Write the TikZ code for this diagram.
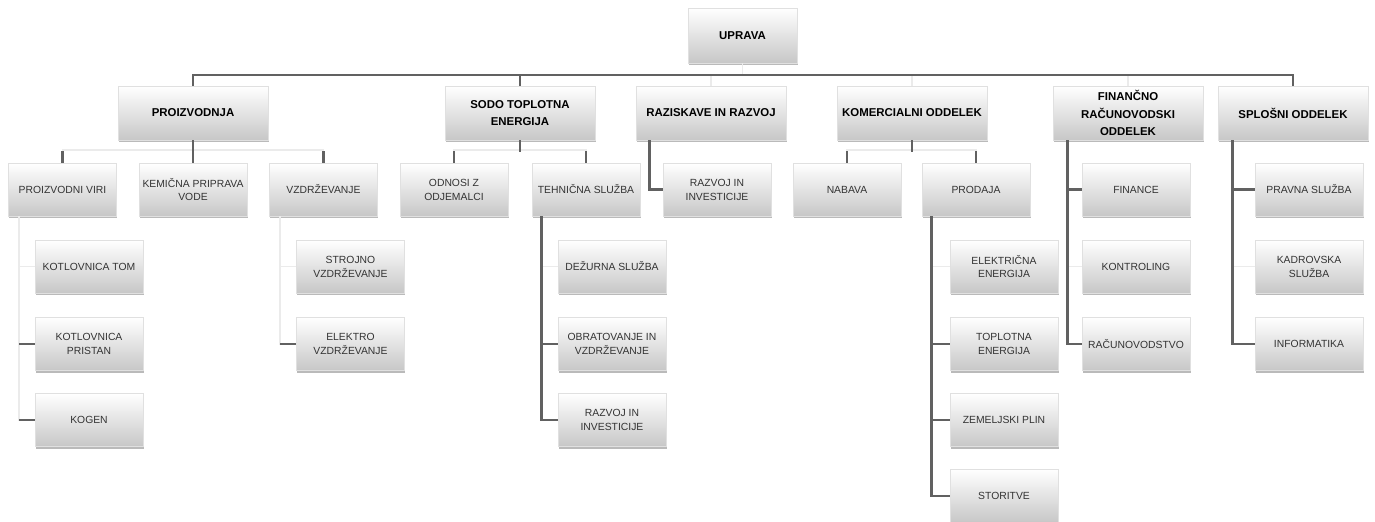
\documentclass[tikz,border=0pt]{standalone}
\usepackage{fontspec}
\setmainfont{Liberation Sans}
\usetikzlibrary{shadows}
\begin{document}
\begin{tikzpicture}[x=0.02cm, y=-0.02cm, boxStyle/.style={rectangle, draw=black!12, top color=white, bottom color=black!22, drop shadow={shadow xshift=0.4pt, shadow yshift=-1.2pt, fill=black!45, opacity=0.6}, align=center, inner sep=1pt}, headStyle/.style={boxStyle, minimum width=3cm, minimum height=1.08cm, font=\fontsize{6.5}{10}\selectfont\bfseries}, unitStyle/.style={boxStyle, minimum width=2.16cm, minimum height=1.06cm, text=black!80, font=\fontsize{5.9}{7.9}\selectfont}, lineStyle/.style={draw=black!62, line width=1.6pt}, faintStyle/.style={draw=black!8, line width=0.8pt}]
                    \fill[white] (0, 0) rectangle (1375, 521);
                    \useasboundingbox (0, 0) rectangle (1375, 521);
                    \coordinate (bus) at (0, 75);
                    \coordinate (row) at (0, 150);

                    \node[headStyle, minimum width=2.18cm, minimum height=1.1cm] (root) at (742.5, 35.5) {UPRAVA};

                    \node[headStyle] (dep_0) at ( 193, 113) {PROIZVODNJA};
                    \node[headStyle] (dep_1) at ( 520, 113) {SODO TOPLOTNA\\ENERGIJA};
                    \node[headStyle] (dep_2) at ( 711, 113) {RAZISKAVE IN RAZVOJ};
                    \node[headStyle] (dep_3) at ( 912, 113) {KOMERCIALNI ODDELEK};
                    \node[headStyle] (dep_4) at (1128, 113) {FINANČNO\\RAČUNOVODSKI\\ODDELEK};
                    \node[headStyle] (dep_5) at (1293, 113) {SPLOŠNI ODDELEK};

                    \node[unitStyle] (dep_0_0) at (  62.5, 189.5) {PROIZVODNI VIRI};
                    \node[unitStyle] (dep_0_1) at ( 193,   189.5) {KEMIČNA PRIPRAVA\\VODE};
                    \node[unitStyle] (dep_0_2) at ( 323.5, 189.5) {VZDRŽEVANJE};
                    \node[unitStyle] (dep_1_0) at ( 454,   189.5) {ODNOSI Z\\ODJEMALCI};
                    \node[unitStyle] (dep_1_1) at ( 586,   189.5) {TEHNIČNA SLUŽBA};
                    \node[unitStyle] (dep_2_0) at ( 717,   189.5) {RAZVOJ IN\\INVESTICIJE};
                    \node[unitStyle] (dep_3_0) at ( 847,   189.5) {NABAVA};
                    \node[unitStyle] (dep_3_1) at ( 976,   189.5) {PRODAJA};
                    \node[unitStyle] (dep_4_0) at (1136,   189.5) {FINANCE};
                    \node[unitStyle] (dep_4_1) at (1136,   266.5) {KONTROLING};
                    \node[unitStyle] (dep_4_2) at (1136,   344)   {RAČUNOVODSTVO};
                    \node[unitStyle] (dep_5_0) at (1309,   189.5) {PRAVNA SLUŽBA};
                    \node[unitStyle] (dep_5_1) at (1309,   266.5) {KADROVSKA\\SLUŽBA};
                    \node[unitStyle] (dep_5_2) at (1309,   344)   {INFORMATIKA};

                    \node[unitStyle] (dep_0_0_0) at (  89,   266.5) {KOTLOVNICA TOM};
                    \node[unitStyle] (dep_0_0_1) at (  89,   344)   {KOTLOVNICA\\PRISTAN};
                    \node[unitStyle] (dep_0_0_2) at (  89,   420)   {KOGEN};
                    \node[unitStyle] (dep_0_2_0) at ( 350.5, 266.5) {STROJNO\\VZDRŽEVANJE};
                    \node[unitStyle] (dep_0_2_1) at ( 350.5, 344)   {ELEKTRO\\VZDRŽEVANJE};
                    \node[unitStyle] (dep_1_1_0) at ( 612,   266.5) {DEŽURNA SLUŽBA};
                    \node[unitStyle] (dep_1_1_1) at ( 612,   344)   {OBRATOVANJE IN\\VZDRŽEVANJE};
                    \node[unitStyle] (dep_1_1_2) at ( 612,   420)   {RAZVOJ IN\\INVESTICIJE};
                    \node[unitStyle] (dep_3_1_0) at (1004,   266.5) {ELEKTRIČNA\\ENERGIJA};
                    \node[unitStyle] (dep_3_1_1) at (1004,   344)   {TOPLOTNA\\ENERGIJA};
                    \node[unitStyle] (dep_3_1_2) at (1004,   420)   {ZEMELJSKI PLIN};
                    \node[unitStyle] (dep_3_1_3) at (1004,   496)   {STORITVE};

                    \draw[faintStyle] (root.south) -- (root.south |- bus);
                    \foreach \d in {dep_2, dep_3, dep_4}
                        \draw[faintStyle] (\d.north) -- (\d.north |- bus);
                    \draw[lineStyle] (dep_0.north) -- (dep_0.north |- bus) -- (dep_5.north |- bus) -- (dep_5.north);
                    \draw[lineStyle] (dep_1.north) -- (dep_1.north |- bus);

                    \draw[faintStyle] (dep_0_0.north) |- (dep_0_2.north |- row) -- (dep_0_2.north);
                    \draw[faintStyle] (dep_1_0.north) |- (dep_1_1.north |- row) -- (dep_1_1.north);
                    \draw[faintStyle] (dep_3_0.north) |- (dep_3_1.north |- row) -- (dep_3_1.north);
                    \draw[lineStyle] (dep_0.south) -- (dep_0_1.north);
                    \foreach \d in {dep_1, dep_3}
                        \draw[lineStyle] (\d.south) -- ++(0, 12);
                    \foreach \c in {dep_0_0, dep_0_2, dep_1_0, dep_1_1, dep_3_0, dep_3_1}
                        \draw[lineStyle] (\c.north) -- ++(0, -12);

                    \foreach \c in {dep_0_0_0, dep_0_0_1, dep_0_0_2}
                        \draw[faintStyle] ([xshift=0.22cm]dep_0_0.south west) |- (\c.west);
                    \foreach \c in {dep_0_2_0, dep_0_2_1}
                        \draw[faintStyle] ([xshift=0.22cm]dep_0_2.south west) |- (\c.west);
                    \foreach \c in {dep_0_0_1, dep_0_0_2, dep_0_2_1}
                        \draw[lineStyle] (\c.west) -- ++(-16, 0);

                    \draw[faintStyle] ([xshift=0.2cm]dep_1_1.south west) |- (dep_1_1_0.west);
                    \foreach \c in {dep_1_1_1, dep_1_1_2}
                        \draw[lineStyle] ([xshift=0.2cm]dep_1_1.south west) |- (\c.west);

                    \draw[lineStyle] ([xshift=0.28cm]dep_2.south west) |- (dep_2_0.west);

                    \draw[faintStyle] ([xshift=0.2cm]dep_3_1.south west) |- (dep_3_1_0.west);
                    \foreach \c in {dep_3_1_1, dep_3_1_2, dep_3_1_3}
                        \draw[lineStyle] ([xshift=0.2cm]dep_3_1.south west) |- (\c.west);

                    \draw[faintStyle] ([xshift=0.3cm]dep_4.south west) |- (dep_4_1.west);
                    \foreach \c in {dep_4_0, dep_4_2}
                        \draw[lineStyle] ([xshift=0.3cm]dep_4.south west) |- (\c.west);

                    \draw[faintStyle] ([xshift=0.3cm]dep_5.south west) |- (dep_5_1.west);
                    \foreach \c in {dep_5_0, dep_5_2}
                        \draw[lineStyle] ([xshift=0.3cm]dep_5.south west) |- (\c.west);
                \end{tikzpicture}
\end{document}
